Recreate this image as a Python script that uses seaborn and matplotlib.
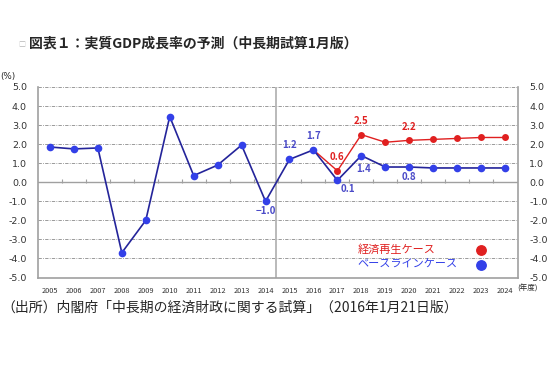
import matplotlib.pyplot as plt
import numpy as np
import pandas as pd
import seaborn as sns

years = list(range(2005, 2025))
baseline = [1.85, 1.75, 1.8, -3.7, -2.0, 3.45, 0.35, 0.9, 1.95, -1.0,
            1.2, 1.7, 0.1, 1.4, 0.8, 0.8, 0.75, 0.75, 0.75, 0.75]
revival_years = list(range(2016, 2025))
revival = [1.7, 0.6, 2.5, 2.1, 2.2, 2.25, 2.3, 2.35, 2.35]

blue_labels = {2014: "−1.0", 2015: "1.2", 2016: "1.7", 2017: "0.1", 2018: "1.4", 2020: "0.8"}
red_labels = {2017: "0.6", 2018: "2.5", 2020: "2.2"}

sns.set_style("white")
plt.rcParams["font.family"] = ["Noto Sans CJK JP", "DejaVu Sans"]

df_base = pd.DataFrame({"year": years, "value": baseline})
df_rev = pd.DataFrame({"year": revival_years, "value": revival})

fig = plt.figure(figsize=(5.49, 3.71), dpi=100)
ax = fig.add_axes([0.0692, 0.252, 0.8743, 0.5135])

gray = "#a0a0a0"
grid = "#8a8a8a"
line_blue = "#24249a"
mark_blue = "#3340e8"
red = "#e02020"
lab_blue = "#4a4ac8"

# grid
for v in range(-4, 6):
    if v == 0:
        ax.axhline(v, color=gray, lw=1.0, zorder=1)
    else:
        ax.axhline(v, color=grid, lw=0.6, ls=(0, (4, 1.5, 1, 1.5)), zorder=1)
ax.axvline(2014.45, color="#b4b4b4", lw=1.3, zorder=1)
ax.plot([y + 0.5 for y in years[:-1]], [0.06] * (len(years) - 1), ls="none",
        marker="|", ms=3, mew=0.8, color=gray, zorder=1)

sns.lineplot(data=df_rev, x="year", y="value", ax=ax, color=red, lw=1.0,
             zorder=2)
sns.lineplot(data=df_rev.iloc[1:], x="year", y="value", ax=ax, color=red,
             lw=0, marker="o", ms=5, markeredgewidth=0, zorder=3)
sns.lineplot(data=df_base, x="year", y="value", ax=ax, color=line_blue, lw=1.2,
             marker="o", ms=5.5, markerfacecolor=mark_blue,
             markeredgecolor=mark_blue, markeredgewidth=0, zorder=4)

for yr, txt in blue_labels.items():
    v = baseline[years.index(yr)]
    if yr in (2015, 2016):
        ax.text(yr, v + 0.75, txt, color=lab_blue, ha="center", va="center",
                fontsize=7, fontweight="bold")
    elif yr == 2017:
        ax.text(yr + 0.45, v - 0.48, txt, color=lab_blue, ha="center",
                va="center", fontsize=7, fontweight="bold")
    elif yr == 2018:
        ax.text(yr + 0.1, v - 0.7, txt, color=lab_blue, ha="center",
                va="center", fontsize=7, fontweight="bold")
    else:
        ax.text(yr, v - 0.5, txt, color=lab_blue, ha="center", va="center",
                fontsize=7, fontweight="bold")
for yr, txt in red_labels.items():
    v = revival[revival_years.index(yr)]
    ax.text(yr, v + 0.72, txt, color=red, ha="center", va="center",
            fontsize=7, fontweight="bold")

ax.set_xlim(2004.5, 2024.54)
ax.set_ylim(-5, 5)
yt = np.arange(-5, 5.1, 1)
ax.set_yticks(yt)
ax.set_yticklabels([f"{v:.1f}" for v in yt], family="DejaVu Sans",
                   color="#333333")
ax.set_xticks(years)
ax.set_xticklabels([str(y) for y in years], fontsize=5.3, color="#333333")
ax.tick_params(axis="y", labelsize=6.8, left=False, right=False,
               labelright=True, pad=4.5)
ax.tick_params(axis="x", bottom=False, pad=3)
ax.set_xlabel("")
ax.set_ylabel("")
for side in ("left", "right", "bottom"):
    ax.spines[side].set_color(gray)
    ax.spines[side].set_linewidth(1.2)
ax.spines["top"].set_visible(False)

# legend
ax.text(2017.83, -3.54, "経済再生ケース", color=red, ha="left", va="center",
        fontsize=8)
ax.text(2017.83, -4.34, "ベースラインケース", color=mark_blue, ha="left",
        va="center", fontsize=8)
ax.plot([2023.0], [-3.54], "o", color=red, ms=6.8)
ax.plot([2023.0], [-4.34], "o", color=mark_blue, ms=6.8)

fig.text(0.0, 0.795, "(%)", fontsize=6.3, family="DejaVu Sans", va="center")
fig.text(0.942, 0.221, "(年度)", fontsize=5.5, va="center")
fig.text(0.034, 0.878, "□", fontsize=5, color="#b8b8b8", va="center")
fig.text(0.052, 0.884, "図表１：実質GDP成長率の予測（中長期試算1月版）",
         fontsize=10, fontweight="bold", va="center")
fig.text(0.003, 0.17, "（出所）内閣府「中長期の経済財政に関する試算」（2016年1月21日版）",
         fontsize=10, va="center")

fig.savefig("out.png", dpi=100)
